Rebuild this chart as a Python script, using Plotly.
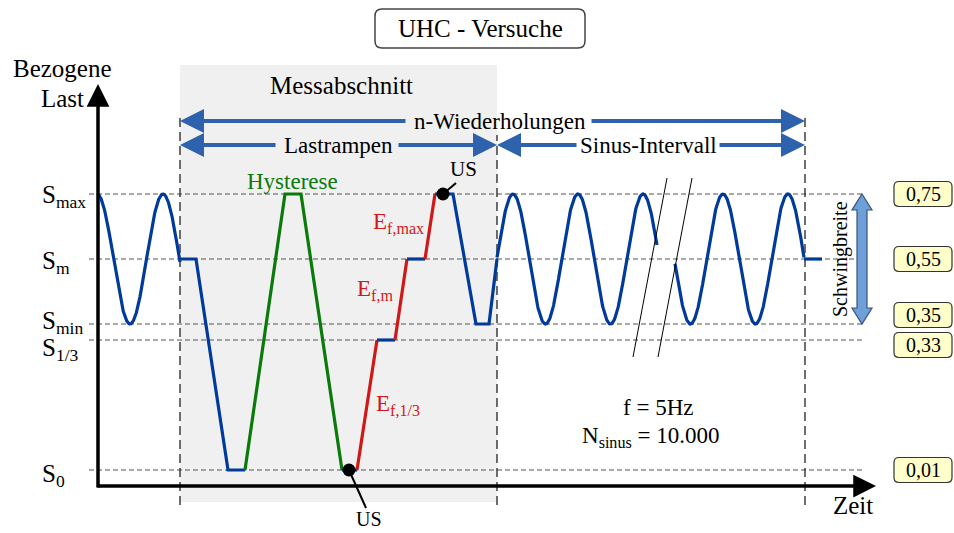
import numpy as np
import plotly.graph_objects as go

# --- schematic levels (height above S0 in drawing units) ---
level_keys = ["max", "m", "min", "1/3", "0"]
level_labels = ["S<sub>max</sub>", "S<sub>m</sub>", "S<sub>min</sub>", "S<sub>1/3</sub>", "S<sub>0</sub>"]
level_values = ["0,75", "0,55", "0,35", "0,33", "0,01"]
level_height = [276, 211, 146, 130, 0]
L = dict(zip(level_keys, level_height))

# --- load history (time in drawing units) ---
sine_blocks = [  # start, end, time of a peak, period
    (97, 180, 97, 66),
    (497, 657, 513, 65),
    (675, 804, 723, 65),
]
segments = [
    ("blue", [180, 196, 228, 245], ["m", "m", "0", "0"]),
    ("green", [245, 285, 301, 342], ["0", "max", "max", "0"]),
    ("blue", [342, 357], ["0", "0"]),
    ("red", [357, 377], ["0", "1/3"]),
    ("blue", [377, 395], ["1/3", "1/3"]),
    ("red", [395, 407], ["1/3", "m"]),
    ("blue", [407, 425], ["m", "m"]),
    ("red", [425, 435], ["m", "max"]),
    ("blue", [435, 453, 476, 489, 497], ["max", "max", "min", "min", "m"]),
    ("blue", [804, 822], ["m", "m"]),
]
us_points = [(349, "0"), (443, "max")]

# section boundaries
t_start, t_mess_end, t_sinus_end = 180, 497, 805

COL = {"blue": "#003a9b", "green": "#0a7a0a", "red": "#d01818"}
ARROW_BLUE = "#2f62ad"
FONT = "Liberation Serif, Times New Roman, DejaVu Serif, serif"

fig = go.Figure()
shapes = []
ann = []


def rrect(x0, y0, x1, y1, r):
    return (f"M{x0+r},{y0} L{x1-r},{y0} Q{x1},{y0} {x1},{y0+r} L{x1},{y1-r} "
            f"Q{x1},{y1} {x1-r},{y1} L{x0+r},{y1} Q{x0},{y1} {x0},{y1-r} "
            f"L{x0},{y0+r} Q{x0},{y0} {x0+r},{y0} Z")


def text(x, y, s, size=23, color="black", **kw):
    ann.append(dict(x=x, y=y, text=s, showarrow=False, xref="x", yref="y",
                    font=dict(family=FONT, size=size, color=color), **kw))


def arrow(x_tail, x_head, y, color=ARROW_BLUE, width=4, size=1.2):
    ann.append(dict(x=x_head, y=y, ax=x_tail, ay=y, xref="x", yref="y",
                    axref="x", ayref="y", text="", showarrow=True,
                    arrowhead=2, arrowsize=size, arrowwidth=width,
                    arrowcolor=color, standoff=0))


# measurement section background
shapes.append(dict(type="rect", x0=t_start, x1=t_mess_end, y0=-32, y1=405,
                   fillcolor="#f0f0f0", line=dict(width=0), layer="below"))

# level dashed lines
for h in level_height:
    shapes.append(dict(type="line", x0=89, x1=862, y0=h, y1=h, layer="below",
                       line=dict(color="#555555", width=1.2, dash="5px,3px")))

# vertical section lines
for xv, ytop in [(t_start, 357), (t_mess_end, 335), (t_sinus_end, 357)]:
    shapes.append(dict(type="line", x0=xv, x1=xv, y0=-35, y1=ytop, layer="below",
                       line=dict(color="#222222", width=1.3, dash="9px,5px")))

# sine parts
amp = L["max"] - L["m"]
for t0, t1, tp, per in sine_blocks:
    t = np.linspace(t0, t1, 300)
    fig.add_trace(go.Scatter(x=t, y=L["m"] + amp * np.cos(2 * np.pi * (t - tp) / per),
                             mode="lines", line=dict(color=COL["blue"], width=3.2),
                             hoverinfo="skip"))

for col, ts, ks in segments:
    fig.add_trace(go.Scatter(x=ts, y=[L[k] for k in ks], mode="lines",
                             line=dict(color=COL[col], width=3.2), hoverinfo="skip"))

# US markers and leaders
fig.add_trace(go.Scatter(x=[p[0] for p in us_points], y=[L[p[1]] for p in us_points],
                         mode="markers", marker=dict(color="black", size=13),
                         hoverinfo="skip"))
shapes.append(dict(type="line", x0=443, y0=L["max"], x1=456, y1=L["max"] + 11,
                   line=dict(color="black", width=2)))
shapes.append(dict(type="line", x0=349, y0=L["0"], x1=366, y1=L["0"] - 38,
                   line=dict(color="black", width=2)))
text(463, 301, "US", size=21)
text(369, -49, "US", size=20)

# break marks in the sine interval
for xt, xb in [(667, 633), (692, 658)]:
    shapes.append(dict(type="line", x0=xt, y0=292, x1=xb, y1=113,
                       line=dict(color="black", width=1)))

# axes
ann.append(dict(x=98, y=386, ax=98, ay=-19, xref="x", yref="y", axref="x", ayref="y",
                text="", showarrow=True, arrowhead=2, arrowsize=1.3, arrowwidth=3.5,
                arrowcolor="black", standoff=0))
ann.append(dict(x=876, y=-16, ax=96, ay=-16, xref="x", yref="y", axref="x", ayref="y",
                text="", showarrow=True, arrowhead=2, arrowsize=1.3, arrowwidth=3.5,
                arrowcolor="black", standoff=0))
text(62, 402, "Bezogene", size=25)
text(62, 372, "Last", size=25)
text(853, -35, "Zeit", size=25)

# level labels and value boxes
label_dy = [-2, -3, 2, -9, -5]
box_dy = [0, 0, 9, -5, 0]
for lab, val, h, dy, bdy in zip(level_labels, level_values, level_height, label_dy, box_dy):
    text(40, h + dy, lab, size=25, xanchor="left")
    yc = h + bdy
    shapes.append(dict(type="path", path=rrect(894, yc - 12.5, 952, yc + 12.5, 5),
                       fillcolor="#ffffcc", line=dict(color="#333333", width=1.2)))
    text(923, yc, val, size=20)

# title box
shapes.append(dict(type="path", path=rrect(375, 422, 585, 461, 7),
                   fillcolor="white", line=dict(color="#444444", width=1.5)))
text(480, 442, "UHC - Versuche", size=25)

# section arrows
text(341, 385, "Messabschnitt", size=25)
arrow(407, t_start, 349)
arrow(590, t_sinus_end, 349)
text(500, 349, "n-Wiederholungen", size=23)
arrow(277, t_start, 325)
arrow(397, t_mess_end, 325)
text(338, 325, "Lastrampen", size=23)
arrow(578, t_mess_end, 325)
arrow(718, t_sinus_end, 325)
text(648, 325, "Sinus-Intervall", size=23)

# curve labels
text(292, 289, "Hysterese", size=23, color=COL["green"])
text(398, 247, "E<sub>f,max</sub>", size=23, color=COL["red"])
text(375, 180, "E<sub>f,m</sub>", size=23, color=COL["red"])
text(398, 65, "E<sub>f,1/3</sub>", size=23, color=COL["red"])
text(658, 63, "f = 5Hz", size=23)
text(650, 33, "N<sub>sinus</sub> = 10.000", size=23)

# amplitude arrow (Schwingbreite)
xc, hw, sw, hl = 862, 10, 5, 16
ytop, ybot = L["max"], L["min"]
path = (f"M{xc},{ytop} L{xc+hw},{ytop-hl} L{xc+sw},{ytop-hl} L{xc+sw},{ybot+hl} "
        f"L{xc+hw},{ybot+hl} L{xc},{ybot} L{xc-hw},{ybot+hl} L{xc-sw},{ybot+hl} "
        f"L{xc-sw},{ytop-hl} L{xc-hw},{ytop-hl} Z")
shapes.append(dict(type="path", path=path, fillcolor="#6f9fd8",
                   line=dict(color="#34557f", width=1.2)))
text(840, (ytop + ybot) / 2, "Schwingbreite", size=20, textangle=-90)

fig.update_layout(
    width=954, height=533, autosize=False,
    margin=dict(l=0, r=0, t=0, b=0),
    paper_bgcolor="white", plot_bgcolor="white",
    showlegend=False,
    font=dict(family=FONT),
    xaxis=dict(range=[0, 954], visible=False, fixedrange=True),
    yaxis=dict(range=[-63, 470], visible=False, fixedrange=True),
    shapes=shapes, annotations=ann,
)

fig.write_html("out.html", config={"displayModeBar": False},
               post_script="document.body.style.margin='0';document.body.style.overflow='hidden';")
